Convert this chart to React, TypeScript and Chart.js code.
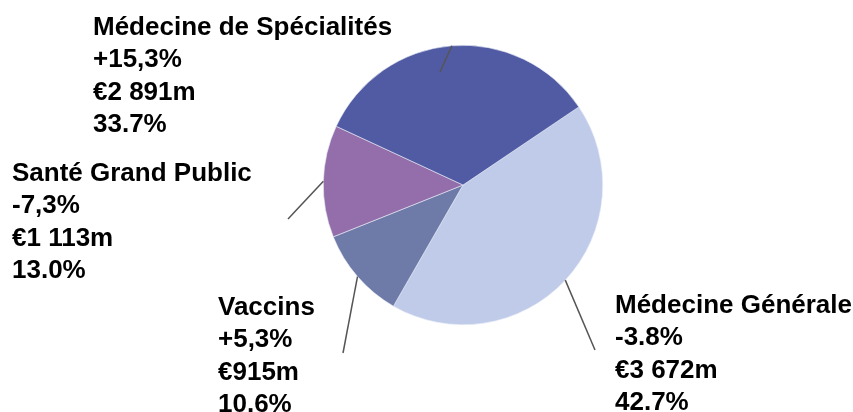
import React, { useEffect, useRef } from "react";
import { Chart, registerables } from "chart.js";

Chart.register(...registerables);

const segments = ["Médecine Générale", "Vaccins", "Santé Grand Public", "Médecine de Spécialités"];
const salesEurM = [3672, 915, 1113, 2891];
const growthLabels = ["-3.8%", "+5,3%", "-7,3%", "+15,3%"];
const amountLabels = ["€3 672m", "€915m", "€1 113m", "€2 891m"];
const shareLabels = ["42.7%", "10.6%", "13.0%", "33.7%"];
const colors = ["#BFCBE9", "#6E7BA8", "#946EAA", "#515BA3"];

// label layout: text left x, first baseline y, leader line far end
const labelLayout = [
  { x: 615, y: 313, lx: 595, ly: 350 },
  { x: 218, y: 315, lx: 343, ly: 353 },
  { x: 12, y: 181, lx: 288, ly: 219 },
  { x: 93, y: 35, lx: 440, ly: 72 },
];

const labelPlugin = {
  id: "sideLabels",
  afterDatasetsDraw(chart: any) {
    const ctx = chart.ctx;
    const meta = chart.getDatasetMeta(0);
    ctx.save();
    meta.data.forEach((arc: any, i: number) => {
      const mid = (arc.startAngle + arc.endAngle) / 2;
      const ax = arc.x + Math.cos(mid) * arc.outerRadius;
      const ay = arc.y + Math.sin(mid) * arc.outerRadius;
      const L = labelLayout[i];
      ctx.strokeStyle = "#555555";
      ctx.lineWidth = 1.5;
      ctx.beginPath();
      ctx.moveTo(ax, ay);
      ctx.lineTo(L.lx, L.ly);
      ctx.stroke();
      ctx.fillStyle = "#000000";
      ctx.font = "bold 26px 'Liberation Sans', Arial, sans-serif";
      ctx.textAlign = "left";
      ctx.textBaseline = "alphabetic";
      const lines = [segments[i], growthLabels[i], amountLabels[i], shareLabels[i]];
      lines.forEach((t, k) => ctx.fillText(t, L.x, L.y + k * 32.3));
    });
    ctx.restore();
  },
};

export default function App() {
  const ref = useRef<HTMLCanvasElement>(null);
  useEffect(() => {
    const chart = new Chart(ref.current!, {
      type: "pie",
      data: {
        labels: segments,
        datasets: [
          {
            data: salesEurM,
            backgroundColor: colors,
            borderColor: "#E8ECF6",
            borderWidth: 0.6,
          },
        ],
      },
      options: {
        responsive: false,
        animation: false,
        rotation: 56,
        layout: { padding: { top: 45, bottom: 87, left: 323, right: 250 } },
        plugins: { legend: { display: false }, tooltip: { enabled: false } },
      },
      plugins: [labelPlugin],
    });
    return () => chart.destroy();
  }, []);
  return (
    <div style={{ position: "fixed", left: 0, top: 0, width: 853, height: 412, background: "#fff" }}>
      <canvas ref={ref} width={853} height={412} style={{ width: 853, height: 412 }} />
    </div>
  );
}
